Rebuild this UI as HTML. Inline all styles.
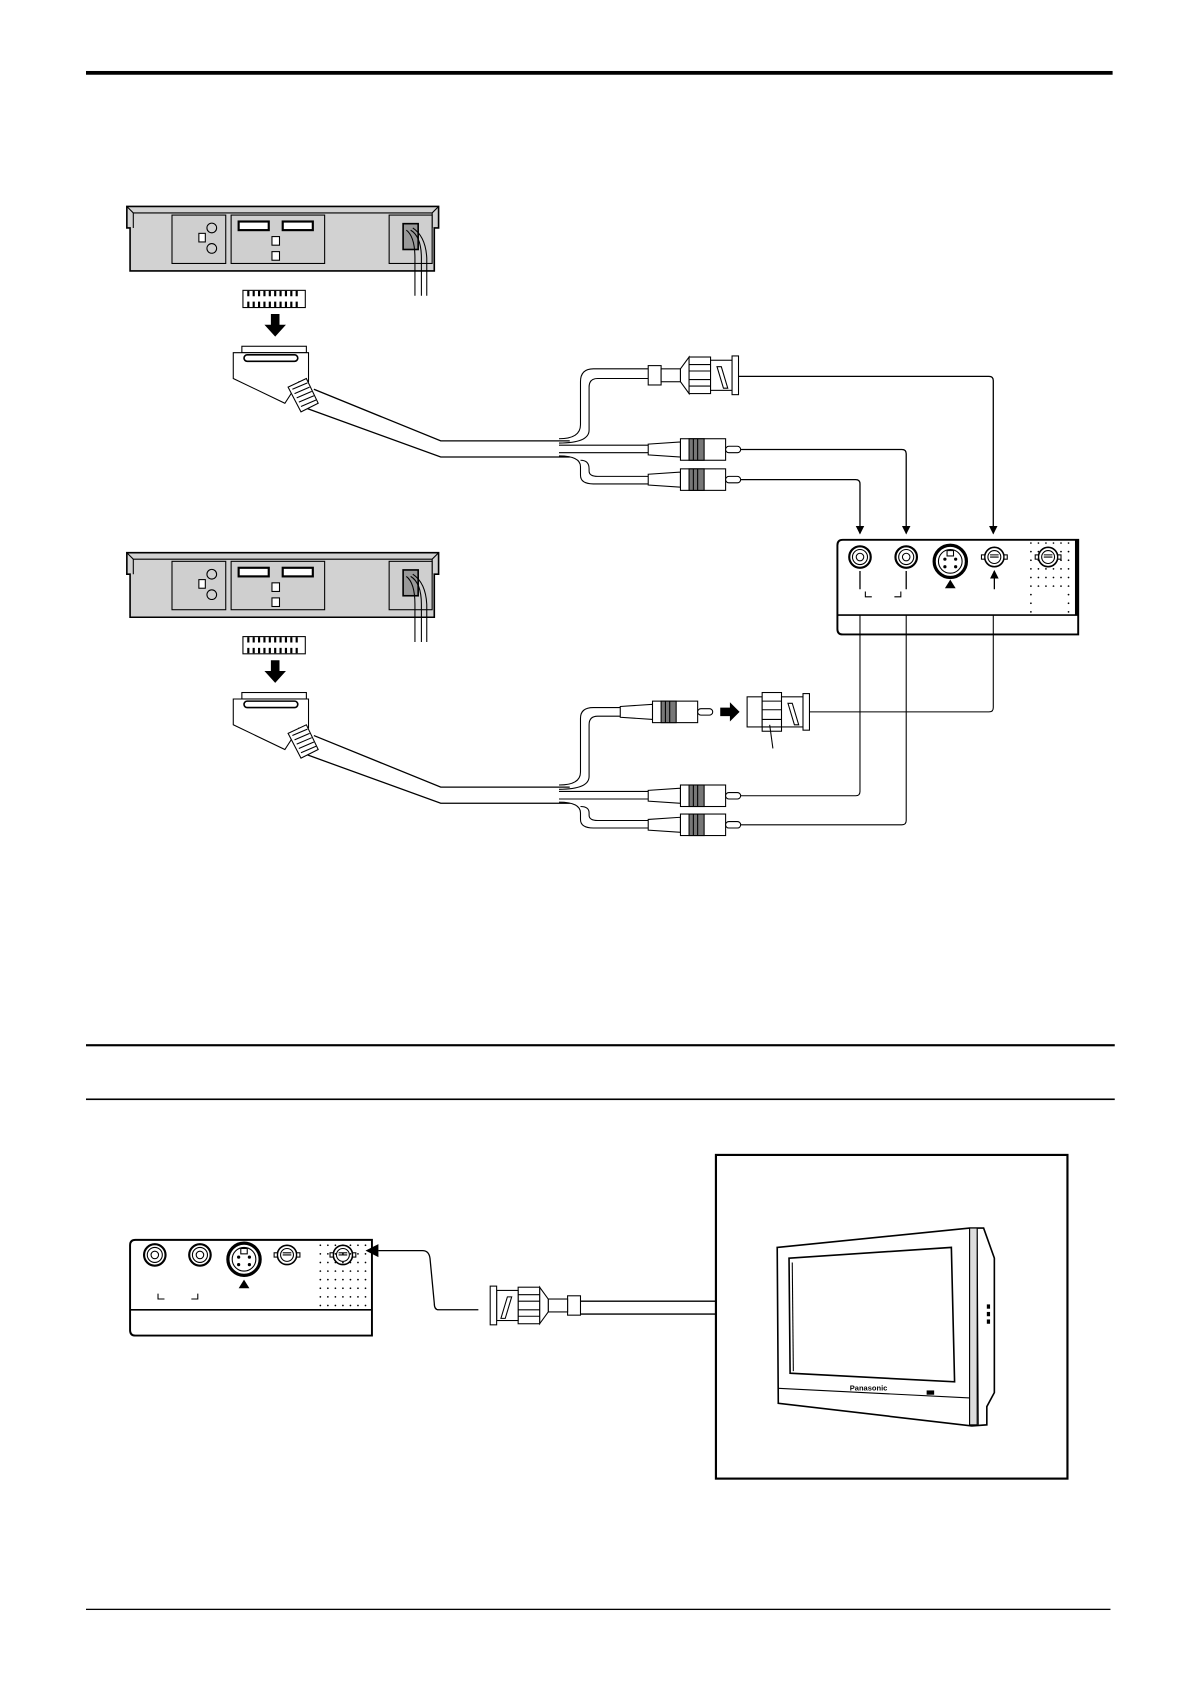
<!DOCTYPE html>
<html><head><meta charset="utf-8"><style>html,body{margin:0;padding:0;background:#fff}svg{display:block}</style></head>
<body>
<svg width="1190" height="1684" viewBox="0 0 1107 1566" preserveAspectRatio="none" xmlns="http://www.w3.org/2000/svg" font-family="Liberation Sans, sans-serif">
<defs>
<g id="vcr">
  <path d="M118,192 L408,192 L408,212 L404,212 L404,252 L121,252 L121,212 L118,212 Z" fill="#d2d2d2" stroke="#000" stroke-width="1.5"/>
  <path d="M118,192 L124,198 L402,198 L408,192" fill="none" stroke="#000" stroke-width="1"/>
  <line x1="124" y1="198" x2="124" y2="212" stroke="#000"/><line x1="402" y1="198" x2="402" y2="212" stroke="#000"/>
  <rect x="160" y="200" width="50" height="45" fill="#cfcfcf" stroke="#000"/>
  <rect x="215" y="200" width="87" height="45" fill="#cfcfcf" stroke="#000"/>
  <rect x="362" y="200" width="40" height="45" fill="#cfcfcf" stroke="#000"/>
  <circle cx="197" cy="212" r="4.5" fill="#d2d2d2" stroke="#000"/><circle cx="197" cy="231" r="4.5" fill="#d2d2d2" stroke="#000"/>
  <rect x="185" y="217" width="6" height="8" fill="#fff" stroke="#000"/>
  <rect x="222" y="206" width="28" height="8" fill="#fff" stroke="#000" stroke-width="2"/>
  <rect x="263" y="206" width="28" height="8" fill="#fff" stroke="#000" stroke-width="2"/>
  <rect x="253" y="220" width="7" height="8" fill="#fff" stroke="#000"/><rect x="253" y="234" width="7" height="8" fill="#fff" stroke="#000"/>
  <rect x="375" y="208" width="14" height="24" fill="#999" stroke="#000" stroke-width="1.5"/>
  <path d="M378,214 Q386,220 386,240 L386,275 M382,214 Q392,220 392,240 L392,275 M384,212 Q396,220 397,240 L397,275" fill="none" stroke="#000" stroke-width="1"/>
  <rect x="226" y="270" width="58" height="16" fill="#fff" stroke="#000"/>
  <path d="M230,273 h50 M230,283 h50" stroke="#000" stroke-width="5" stroke-dasharray="2,3"/>
  <path d="M252,292 h8 v10 h6 l-10,11 l-10,-11 h6 z" fill="#000"/>
  <rect x="225" y="322" width="60" height="6" fill="#fff" stroke="#000"/>
  <path d="M217,328 L287,328 L287,355 L278,355 L265,375 L217,352 Z" fill="#fff" stroke="#000"/>
  <rect x="227" y="330" width="50" height="6" rx="3" fill="#fff" stroke="#000" stroke-width="1.5"/>
  <path d="M268,360 L285,352 L296,375 L280,383 Z" fill="#fff" stroke="#000"/>
  <path d="M272,362 L286,356 M274,366 L288,360 M276,370 L290,364 M278,374 L292,368 M280,378 L294,372" stroke="#000"/>
  <path d="M292,362 L410,410 L530,410 M286,380 L410,425 L530,425" fill="none" stroke="#000" stroke-width="1.2"/>
</g>
<g id="rca">
  <path d="M0,-5 L30,-7 L30,7 L0,5 Z" fill="#fff" stroke="#000"/>
  <rect x="30" y="-10" width="42" height="20" fill="#fff" stroke="#000"/>
  <rect x="38" y="-10" width="14" height="20" fill="#777" stroke="#000"/>
  <path d="M42,-10 v20 M46,-10 v20" stroke="#000"/>
  <rect x="72" y="-3" width="14" height="6" rx="3" fill="#fff" stroke="#000"/>
</g>
<g id="bnc">
  <rect x="0" y="-9" width="12" height="18" fill="#fff" stroke="#000"/>
  <rect x="12" y="-6" width="18" height="12" fill="#fff" stroke="#000"/>
  <path d="M30,-6 L38,-17 L38,17 L30,6 Z" fill="#fff" stroke="#000"/>
  <rect x="38" y="-17" width="20" height="34" fill="#fff" stroke="#000"/>
  <path d="M38,-10 h20 M38,-4 h20 M38,4 h20 M38,10 h20" stroke="#000"/>
  <rect x="58" y="-14" width="20" height="28" fill="#fff" stroke="#000"/>
  <path d="M64,-8 L70,12 L74,12 L68,-8 Z" fill="#fff" stroke="#000"/>
  <rect x="78" y="-18" width="6" height="36" fill="#fff" stroke="#000"/>
</g>
<g id="jack"><circle r="10" fill="#fff" stroke="#000" stroke-width="2"/><circle r="7" fill="none" stroke="#000"/><circle r="3.5" fill="#fff" stroke="#000"/></g>
<g id="svid"><circle r="15" fill="#fff" stroke="#000" stroke-width="3"/><circle r="11" fill="#fff" stroke="#000"/><rect x="-3" y="-10" width="6" height="5" fill="#fff" stroke="#000"/><circle cx="-5" cy="-2" r="1.5"/><circle cx="5" cy="-2" r="1.5"/><circle cx="-5" cy="5" r="1.5"/><circle cx="5" cy="5" r="1.5"/></g>
<g id="bjack"><circle r="9" fill="#fff" stroke="#000" stroke-width="1.5"/><circle r="6" fill="none" stroke="#000"/><path d="M-4,0 h8 M-4,-2 h8" stroke="#000"/><rect x="-12" y="-2" width="3" height="4" fill="#fff" stroke="#000"/><rect x="9" y="-2" width="3" height="4" fill="#fff" stroke="#000"/></g>
<marker id="ar" markerWidth="8" markerHeight="10" refX="7" refY="5" orient="auto" markerUnits="userSpaceOnUse"><path d="M0,1 L8,5 L0,9 Z" fill="#000"/></marker>
</defs>

<rect x="80" y="66" width="955" height="3.5" fill="#000"/>

<use href="#vcr"/>
<g transform="translate(0,322)"><use href="#vcr"/></g>

<!-- branches top -->
<path d="M520,408 Q540,408 540,395 L540,355 Q540,343 552,343 L605,343 M520,412 Q548,412 548,400 L548,360 Q548,352 556,352 L605,352" fill="none" stroke="#000"/>
<path d="M520,414 L605,414 M520,421 L605,421 M520,424 Q540,424 540,434 L540,442 Q540,450 552,450 L605,450 M540,428 Q548,428 548,436 L548,438 Q548,443 556,443 L605,443" fill="none" stroke="#000"/>
<g transform="translate(603,349)"><use href="#bnc"/></g>
<g transform="translate(603,418)"><use href="#rca"/></g>
<g transform="translate(603,446)"><use href="#rca"/></g>

<path d="M687,350 L920,350 Q924,350 924,354 L924,496" fill="none" stroke="#000" stroke-width="1.2" marker-end="url(#ar)"/>
<path d="M689,418 L839,418 Q843,418 843,422 L843,496" fill="none" stroke="#000" stroke-width="1.2" marker-end="url(#ar)"/>
<path d="M689,446 L796,446 Q800,446 800,450 L800,496" fill="none" stroke="#000" stroke-width="1.2" marker-end="url(#ar)"/>

<!-- panel -->
<path d="M784,502 L1003,502 L1003,590 L784,590 Q779,590 779,585 L779,507 Q779,502 784,502 Z" fill="#fff" stroke="#000" stroke-width="1.8"/>
<rect x="1000" y="502" width="3" height="70" fill="#000"/>
<line x1="779" y1="572" x2="1003" y2="572" stroke="#000" stroke-width="1.5"/>
<g fill="#000"><g id="dots">
<circle cx="959" cy="505" r=".8"/><circle cx="966" cy="505" r=".8"/><circle cx="973" cy="505" r=".8"/><circle cx="980" cy="505" r=".8"/><circle cx="987" cy="505" r=".8"/><circle cx="994" cy="505" r=".8"/></g>
<use href="#dots" y="8"/><use href="#dots" y="16"/><use href="#dots" y="24"/><use href="#dots" y="32"/><use href="#dots" y="40"/>
<circle cx="959" cy="553" r=".8"/><circle cx="959" cy="561" r=".8"/><circle cx="959" cy="569" r=".8"/><circle cx="994" cy="553" r=".8"/><circle cx="994" cy="561" r=".8"/><circle cx="994" cy="569" r=".8"/></g>
<g transform="translate(800,518)"><use href="#jack"/></g>
<g transform="translate(843,518)"><use href="#jack"/></g>
<g transform="translate(884,522)"><use href="#svid"/></g>
<g transform="translate(925,518)"><use href="#bjack"/></g>
<g transform="translate(975,518)"><use href="#bjack"/></g>
<path d="M879,547 L889,547 L884,539 Z" fill="#000"/>
<path d="M800,548 L800,531 M843,548 L843,531 M925,548 L925,531" stroke="#000" stroke-width="1.2" marker-end="url(#ar)"/>
<path d="M805,550 v5 h6 M838,550 v5 h-6" fill="none" stroke="#000"/>

<!-- branches bottom -->
<path d="M520,730 Q540,730 540,718 L540,668 Q540,658 552,658 L577,658 M520,734 Q548,734 548,722 L548,674 Q548,666 556,666 L577,666" fill="none" stroke="#000"/>
<path d="M520,736 L605,736 M520,743 L605,743 M520,746 Q540,746 540,756 L540,762 Q540,770 552,770 L605,770 M540,750 Q548,750 548,756 L548,758 Q548,763 556,763 L605,763" fill="none" stroke="#000"/>
<g transform="translate(577,662)"><use href="#rca"/></g>
<path d="M670,658 h9 v-5 l9,9 l-9,9 v-5 h-9 z" fill="#000"/>
<g transform="translate(695,662)">
  <rect x="0" y="-14" width="14" height="28" fill="#fff" stroke="#000"/>
  <rect x="14" y="-18" width="18" height="36" fill="#fff" stroke="#000"/>
  <path d="M14,-10 h18 M14,-2 h18 M14,7 h18 M14,14 h18" stroke="#000"/>
  <rect x="32" y="-14" width="20" height="28" fill="#fff" stroke="#000"/>
  <path d="M38,-8 L44,12 L48,12 L42,-8 Z" fill="#fff" stroke="#000"/>
  <rect x="52" y="-17" width="6" height="34" fill="#fff" stroke="#000"/>
  <line x1="21" y1="12" x2="24" y2="34" stroke="#000"/>
</g>
<g transform="translate(603,740)"><use href="#rca"/></g>
<g transform="translate(603,767)"><use href="#rca"/></g>
<path d="M753,662 L920,662 Q924,662 924,658 L924,572" fill="none" stroke="#000"/>
<path d="M689,740 L796,740 Q800,740 800,736 L800,572" fill="none" stroke="#000"/>
<path d="M689,767 L839,767 Q843,767 843,763 L843,572" fill="none" stroke="#000"/>

<rect x="80" y="971" width="957" height="2" fill="#000"/>
<rect x="80" y="1021.5" width="957" height="1.5" fill="#000"/>

<!-- bottom panel -->
<path d="M126,1153 L346,1153 L346,1242 L126,1242 Q121,1242 121,1237 L121,1158 Q121,1153 126,1153 Z" fill="#fff" stroke="#000" stroke-width="1.8"/>
<line x1="121" y1="1218" x2="346" y2="1218" stroke="#000" stroke-width="1.5"/>
<g transform="translate(144,1167)"><use href="#jack"/></g>
<g transform="translate(186,1167)"><use href="#jack"/></g>
<g transform="translate(227,1171)"><use href="#svid"/></g>
<g transform="translate(267,1167)"><use href="#bjack"/></g>
<g transform="translate(319,1167)"><use href="#bjack"/></g>
<path d="M222,1198 L232,1198 L227,1190 Z" fill="#000"/>
<path d="M147,1203 v5 h6 M184,1203 v5 h-6" fill="none" stroke="#000"/>
<g fill="#000"><g id="dots2"><circle cx="298" cy="1158" r=".8"/><circle cx="305" cy="1158" r=".8"/><circle cx="312" cy="1158" r=".8"/><circle cx="319" cy="1158" r=".8"/><circle cx="326" cy="1158" r=".8"/><circle cx="333" cy="1158" r=".8"/><circle cx="340" cy="1158" r=".8"/></g>
<use href="#dots2" y="8"/><use href="#dots2" y="16"/><use href="#dots2" y="24"/><use href="#dots2" y="32"/><use href="#dots2" y="40"/><use href="#dots2" y="48"/><use href="#dots2" y="56"/></g>
<path d="M445,1218 L408,1218 Q404,1218 404,1212 L400,1170 Q399,1163 393,1163 L352,1163" fill="none" stroke="#000" stroke-width="1.2"/>
<path d="M340,1163 L352,1157 L352,1169 Z" fill="#000"/>
<g transform="translate(540,1214) scale(-1,1)"><use href="#bnc"/></g>
<path d="M540,1210 L666,1210 M540,1222 L666,1222" stroke="#000" stroke-width="1.2"/>

<!-- TV box -->
<rect x="666" y="1074" width="327" height="301" fill="#fff" stroke="#000" stroke-width="2"/>
<path d="M723,1160 L902,1142 L915,1142 L925,1170 L925,1295 L918,1308 L918,1325 L904,1326 L724,1305 Z" fill="#fff" stroke="#000" stroke-width="1.5"/>
<path d="M902,1142 L902,1325 M909,1143 L910,1325" stroke="#000"/>
<rect x="902" y="1142" width="7" height="183" fill="#ddd" stroke="#000"/>
<path d="M734,1170 L885,1160 L888,1285 L735,1277 Z" fill="#fff" stroke="#000" stroke-width="1.5"/>
<path d="M737,1174 L738,1275" stroke="#000"/>
<path d="M724,1291 L902,1300" stroke="#000"/>
<rect x="862" y="1293" width="7" height="4" fill="#000"/>
<rect x="918" y="1213" width="3" height="4" fill="#000"/><rect x="918" y="1220" width="3" height="4" fill="#000"/><rect x="918" y="1227" width="3" height="4" fill="#000"/>
<text x="808" y="1293" font-size="7" font-weight="bold" text-anchor="middle">Panasonic</text>

<rect x="80" y="1496" width="953" height="1.2" fill="#000"/>
</svg>
</body></html>
